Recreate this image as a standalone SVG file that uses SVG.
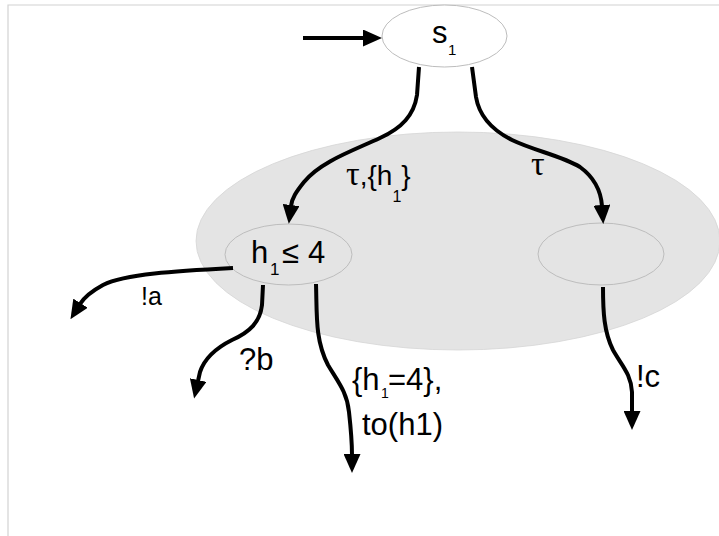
<svg xmlns="http://www.w3.org/2000/svg" width="719" height="536" viewBox="0 0 719 536">
  <style>
    .frame { fill: none; stroke: #d2d2d2; stroke-width: 1.2; }
    .super { fill: #e4e4e4; stroke: #d6d6d6; stroke-width: 0.8; }
    .state { stroke: #bdbdbd; stroke-width: 1; }
    .edge { fill: none; stroke: #000; stroke-width: 4; stroke-linejoin: round; marker-end: url(#head); }
    text { font-family: "Liberation Sans", Arial, sans-serif; fill: #000; }
    .big { font-size: 31px; }
    .mid { font-size: 28px; }
    .tau { font-family: "Liberation Serif", "Times New Roman", serif; font-size: 34px; }
  </style>
  <defs>
    <marker id="head" markerUnits="userSpaceOnUse" viewBox="0 0 19 17" markerWidth="19" markerHeight="17" refX="1" refY="8.5" orient="auto">
      <path d="M0,0 L19,8.5 L0,17 z" fill="#000"/>
    </marker>
  </defs>

  <rect width="719" height="536" fill="#fff"/>
  <path class="frame" d="M8,536 L8,5 L719,5"/>

  <!-- composite state holding the two inner states -->
  <g id="composite">
    <ellipse class="super" cx="458" cy="241" rx="262" ry="109"/>
  </g>

  <g id="s1">
    <ellipse class="state" cx="444.5" cy="36" rx="62.5" ry="31" fill="#fff"/>
    <text class="big" x="432" y="43">s<tspan x="448" y="55" font-size="15">1</tspan></text>
  </g>

  <g id="h1le4">
    <ellipse class="state" cx="288.5" cy="254.5" rx="63.5" ry="30.5" fill="#e4e4e4"/>
    <text class="big" x="251" y="263">h<tspan x="270" y="275" font-size="17">1</tspan><tspan x="282" y="263">≤</tspan><tspan x="308" y="263">4</tspan></text>
  </g>

  <g id="right-state">
    <ellipse class="state" cx="601" cy="254" rx="63" ry="31" fill="#e4e4e4"/>
  </g>

  <g id="connectors">
    <path class="edge" d="M303,38 L364,38"/>
    <path class="edge" d="M419,67 L417,95 C414,115 402,128 380,138 C352,151 320,162 304,182 C296,192 292,198 291,206"/>
    <path class="edge" d="M472,67 L476,97 C479,115 492,130 512,140 C535,151 562,156 580,167 C595,178 601,192 602,206"/>
    <path class="edge" d="M233,268 C175,271 125,274 103,285 C92,291 85,296 80,304"/>
    <path class="edge" d="M263,285 L262,305 C260,322 250,332 232,340 C214,349 204,360 200,372 L198,381"/>
    <path class="edge" d="M316,284 C317,315 315,340 328,365 C338,382 347,392 349,412 C351,430 352,440 352,455"/>
    <path class="edge" d="M603,287 C603,312 604,332 613,350 C622,366 631,374 632,392 L632,412"/>
  </g>

  <g id="labels">
    <text class="mid" x="346" y="185"><tspan class="tau">τ</tspan>,{h<tspan dy="17" font-size="16">1</tspan><tspan dy="-17">}</tspan></text>
    <text class="tau" x="531" y="175">τ</text>
    <text x="141" y="305" font-size="25">!a</text>
    <text class="big" x="239" y="370">?b</text>
    <text class="big" x="352" y="390">{h<tspan x="381" y="398" font-size="14">1</tspan><tspan x="388" y="390">=4},</tspan></text>
    <text class="big" x="362" y="435">to(h1)</text>
    <text class="big" x="636" y="387">!c</text>
  </g>
</svg>
